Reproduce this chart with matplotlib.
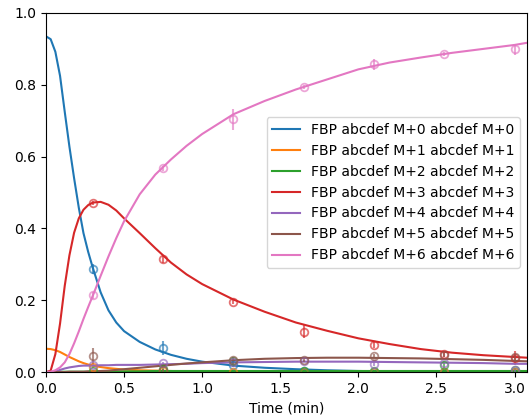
import numpy as np
import matplotlib
matplotlib.use("Agg")
import matplotlib.pyplot as plt

# tiempos de medicion (min)
t_obs = [0.3, 0.75, 1.2, 1.65, 2.1, 2.55, 3.0]

# fracciones medidas por isotopologo
m0_obs = [0.287, 0.067, 0.020, 0.003, 0.001, 0.001, 0.001]
m1_obs = [0.015, 0.004, 0.001, 0.000, 0.001, 0.001, 0.001]
m2_obs = [0.003, 0.008, 0.030, 0.003, 0.002, 0.020, 0.006]
m3_obs = [0.470, 0.314, 0.195, 0.112, 0.076, 0.049, 0.040]
m4_obs = [0.020, 0.024, 0.028, 0.031, 0.022, 0.026, 0.005]
m5_obs = [0.045, 0.005, 0.033, 0.033, 0.045, 0.047, 0.041]
m6_obs = [0.214, 0.567, 0.704, 0.793, 0.857, 0.885, 0.899]

# desviaciones
m0_err = [0.015, 0.020, 0.006, 0.003, 0.002, 0.002, 0.002]
m1_err = [0.004, 0.003, 0.002, 0.002, 0.002, 0.002, 0.002]
m2_err = [0.003, 0.005, 0.008, 0.003, 0.003, 0.008, 0.004]
m3_err = [0.006, 0.010, 0.005, 0.018, 0.010, 0.006, 0.020]
m4_err = [0.004, 0.005, 0.004, 0.004, 0.005, 0.004, 0.004]
m5_err = [0.022, 0.004, 0.008, 0.005, 0.005, 0.005, 0.006]
m6_err = [0.010, 0.008, 0.030, 0.006, 0.015, 0.006, 0.015]

# curvas ajustadas
t_fit = [0, 0.03, 0.06, 0.09, 0.12, 0.15, 0.18, 0.21, 0.24, 0.27, 0.3,
         0.35, 0.4, 0.45, 0.5, 0.6, 0.7, 0.8, 0.9, 1.0, 1.2, 1.4, 1.6,
         1.8, 2.0, 2.2, 2.4, 2.6, 2.8, 3.0, 3.08]
m0_fit = [0.935, 0.927, 0.892, 0.825, 0.725, 0.628, 0.54, 0.458, 0.387, 0.335, 0.29,
          0.222, 0.172, 0.138, 0.114, 0.084, 0.063, 0.048, 0.037, 0.029, 0.018, 0.012, 0.008,
          0.005, 0.003, 0.002, 0.002, 0.001, 0.001, 0.001, 0.001]
m1_fit = [0.065, 0.064, 0.061, 0.056, 0.049, 0.042, 0.036, 0.030, 0.025, 0.021, 0.018,
          0.014, 0.011, 0.009, 0.007, 0.005, 0.004, 0.003, 0.002, 0.002, 0.002, 0.001, 0.001,
          0.001, 0.001, 0.001, 0.001, 0.001, 0.001, 0.001, 0.001]
m2_fit = [0.0, 0.0, 0.0, 0.001, 0.001, 0.001, 0.001, 0.001, 0.001, 0.001, 0.001,
          0.002, 0.002, 0.002, 0.002, 0.002, 0.003, 0.003, 0.003, 0.003, 0.003, 0.003, 0.003,
          0.003, 0.003, 0.003, 0.003, 0.003, 0.003, 0.003, 0.003]
m3_fit = [0.0, 0.004, 0.05, 0.135, 0.24, 0.325, 0.388, 0.428, 0.452, 0.465, 0.472,
          0.474, 0.466, 0.45, 0.428, 0.387, 0.345, 0.305, 0.272, 0.245, 0.202, 0.168, 0.138,
          0.115, 0.094, 0.078, 0.064, 0.054, 0.047, 0.042, 0.040]
m4_fit = [0.0, 0.0, 0.002, 0.006, 0.010, 0.013, 0.015, 0.017, 0.018, 0.018, 0.018,
          0.019, 0.019, 0.020, 0.020, 0.020, 0.021, 0.022, 0.023, 0.025, 0.027, 0.028, 0.029,
          0.029, 0.029, 0.028, 0.027, 0.026, 0.025, 0.023, 0.023]
m5_fit = [0.0, 0.0, 0.0, 0.0, 0.0, 0.001, 0.001, 0.001, 0.001, 0.002, 0.002,
          0.003, 0.004, 0.006, 0.008, 0.012, 0.016, 0.020, 0.024, 0.027, 0.033, 0.037, 0.039,
          0.040, 0.040, 0.039, 0.038, 0.036, 0.034, 0.031, 0.030]
m6_fit = [0.0, 0.001, 0.005, 0.013, 0.027, 0.05, 0.08, 0.113, 0.148, 0.181, 0.213,
          0.268, 0.322, 0.373, 0.42, 0.495, 0.55, 0.592, 0.63, 0.663, 0.718, 0.755, 0.787,
          0.815, 0.843, 0.862, 0.876, 0.889, 0.90, 0.911, 0.917]

obs = [m0_obs, m1_obs, m2_obs, m3_obs, m4_obs, m5_obs, m6_obs]
err = [m0_err, m1_err, m2_err, m3_err, m4_err, m5_err, m6_err]
fit = [m0_fit, m1_fit, m2_fit, m3_fit, m4_fit, m5_fit, m6_fit]
labels = ["FBP abcdef M+%d abcdef M+%d" % (i, i) for i in range(7)]
colores = ["C%d" % i for i in range(7)]

fig = plt.figure(figsize=(5.31, 4.19), dpi=100)
ax = fig.add_axes([0.0866, 0.112, 0.9059, 0.857])

for i in range(7):
    ax.plot(t_fit, fit[i], color=colores[i], lw=1.5, label=labels[i])
    ax.errorbar(t_obs, obs[i], yerr=err[i], fmt="o", color=colores[i],
                mfc="none", ms=5.5, mew=1.3, alpha=0.65, elinewidth=1.5)

ax.set_xlim(0, 3.08)
ax.set_ylim(0, 1.0)
ax.set_xlabel("Time (min)")
ax.legend(loc="center right")

fig.savefig("out.png", dpi=100)
